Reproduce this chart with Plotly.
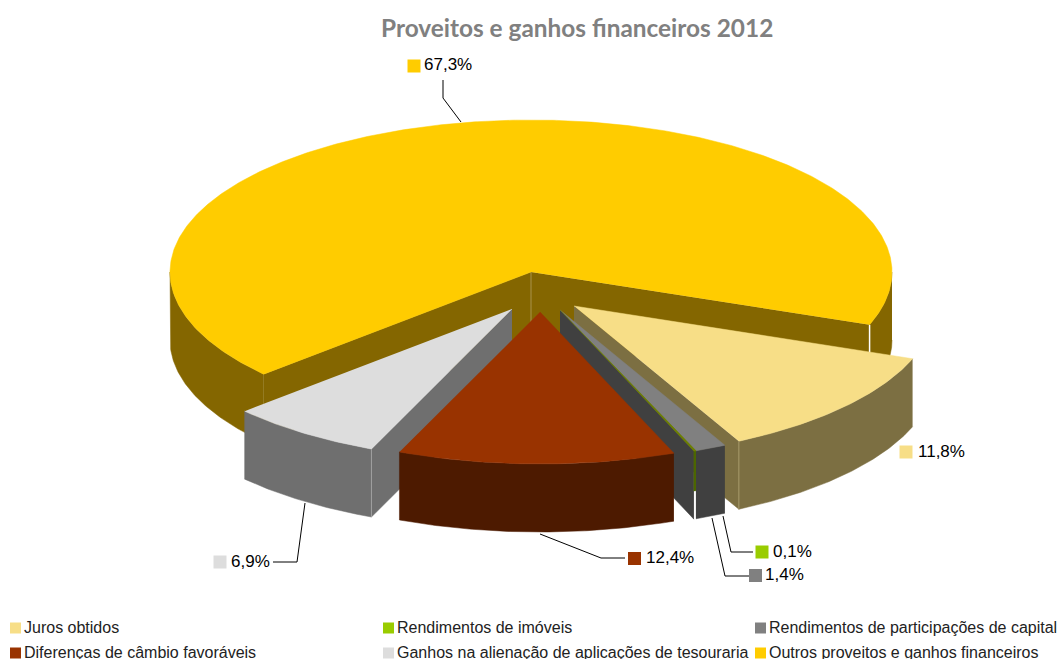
import numpy as np
import plotly.graph_objects as go

# ---- data ----
categories = ["Juros obtidos", "Rendimentos de imóveis", "Rendimentos de participações de capital",
              "Diferenças de câmbio favoráveis", "Ganhos na alienação de aplicações de tesouraria",
              "Outros proveitos e ganhos financeiros"]
values = [11.8, 0.1, 1.4, 12.4, 6.9, 67.3]
title_text = "Proveitos e ganhos financeiros 2012"

# ---- style / layout ----
top_colors = ["#F7DE87", "#99CC00", "#808080", "#993300", "#DDDDDD", "#FFCC00"]
surface_colors = ["#F7DE87", "#6B8000", "#808080", "#993300", "#DDDDDD", "#FFCC00"]
wall_colors = ["#7C6F42", "#4D6600", "#404040", "#4D1A00", "#6F6F6F", "#846600"]
apex = [(574, 306), (560, 310), (560, 310), (540, 312), (512, 309), (531, 272)]
wall_depth = [68, 40, 68, 68, 68, 68]
RX, RY, DEPTH = 361, 152, 68
START = 20.3
angular_order = [0, 2, 1, 3, 4, 5]   # clockwise order round the pie
draw_order = [5, 0, 2, 1, 4, 3]      # back to front

label_sq = [(906, 452), (762, 552), (755.5, 575.5), (634.5, 558.5), (220, 562), (414, 66)]
label_tx = [(916, 451), (771, 551), (763, 574), (644, 557), (229, 561), (422, 64)]
leaders = [None,
           [(723, 516), (731, 552), (753, 552)],
           [(712, 518), (725, 576), (749, 576)],
           [(540, 534), (601, 558), (625, 558)],
           [(305, 503), (297, 562), (273, 562)],
           [(461, 122), (443, 98), (443, 80)]]
legend_pos = [(15.5, 628), (388.5, 628), (760.5, 628), (15.5, 653), (388.5, 653), (760.5, 653)]

# ---- geometry from the values ----
total = sum(values)
spans = {}
a = START
for i in angular_order:
    spans[i] = (a, a + values[i] / total * 360)
    a = spans[i][1]


def rim(i, th):
    t = np.radians(th)
    return apex[i][0] + RX * np.cos(t), apex[i][1] + RY * np.sin(t)


fig = go.Figure()


def poly(xs, ys, color):
    fig.add_trace(go.Scatter(x=list(xs), y=list(ys), mode="lines", fill="toself", fillcolor=color,
                             line=dict(color=color, width=0.5), hoverinfo="skip", showlegend=False))


def line(pts, color="#000000", width=1):
    fig.add_trace(go.Scatter(x=[p[0] for p in pts], y=[p[1] for p in pts], mode="lines",
                             line=dict(color=color, width=width), hoverinfo="skip", showlegend=False))


def wall(i, a0, a1):
    th = np.linspace(a0, a1, max(3, int(abs(a1 - a0) * 2)))
    x, y = rim(i, th)
    d = wall_depth[i]
    poly(np.r_[x, x[::-1]], np.r_[y, y[::-1] + d], wall_colors[i])


def radial(i, th, color=None):
    x, y = rim(i, th)
    ax, ay = apex[i]
    poly([ax, x, x, ax], [ay, y, y + DEPTH, ay + DEPTH], color or wall_colors[i])


for i in draw_order:
    a0, a1 = spans[i]
    ax, ay = apex[i]
    if i == 5:
        radial(i, a0)
        radial(i, a1)
        wall(i, a0, 180)
        wall(i, 360, a1)
        line([(ax, ay), (ax, ay + DEPTH)], "#A8924A", 1)
        xr, yr = rim(i, a1)
        line([(xr, yr), (xr, yr + 28)], "#FFFFFF", 1.5)
    elif i == 0:
        radial(i, a1)
        wall(i, a0, a1)
    elif i == 2:
        radial(i, spans[1][1])
        wall(i, a0, a1)
    elif i == 1:
        wall(i, a0, a1)
        xg, yg = rim(i, a1)
        line([(xg + 1, yg + wall_depth[i]), (xg + 1, yg + DEPTH)], "#FFFFFF", 1.5)
    elif i == 4:
        radial(i, a0)
        wall(i, a0, a1)
    else:
        wall(i, a0, a1)
    th = np.linspace(a0, a1, max(3, int(abs(a1 - a0) * 2)))
    x, y = rim(i, th)
    poly(np.r_[ax, x], np.r_[ay, y], surface_colors[i])
    if i in (0, 4):
        xe, ye = rim(i, a1 if i == 0 else a0)
        line([(xe, ye), (xe, ye + DEPTH)], "#A89A6A" if i == 0 else "#A0A0A0", 1)

# leader lines
for pts in leaders:
    if pts:
        line(pts, "#000000", 1)

# data-label keys and legend keys
fig.add_trace(go.Scatter(x=[p[0] for p in label_sq], y=[p[1] for p in label_sq], mode="markers",
                         marker=dict(symbol="square", size=13, color=top_colors, line=dict(width=0)),
                         hoverinfo="skip", showlegend=False))
fig.add_trace(go.Scatter(x=[p[0] for p in legend_pos], y=[p[1] for p in legend_pos], mode="markers",
                         marker=dict(symbol="square", size=11, color=top_colors, line=dict(width=0)),
                         hoverinfo="skip", showlegend=False))

ann = []
for i, v in enumerate(values):
    ann.append(dict(x=label_tx[i][0], y=label_tx[i][1], xref="x", yref="y", xanchor="left", yanchor="middle",
                    text=f"{v:.1f}%".replace(".", ","), showarrow=False,
                    font=dict(family="Liberation Sans", size=17, color="#000000")))
    ann.append(dict(x=legend_pos[i][0] + 6.5, y=legend_pos[i][1] - 1, xref="x", yref="y", xanchor="left",
                    yanchor="middle", text=categories[i], showarrow=False,
                    font=dict(family="Liberation Sans", size=16, color="#222222")))
ann.append(dict(x=576.5, y=27, xref="x", yref="y", xanchor="center", yanchor="middle", text=f"<b>{title_text}</b>",
                showarrow=False, font=dict(family="Lato", size=24.4, color="#808080")))

fig.update_layout(width=1062, height=659, margin=dict(l=0, r=0, t=0, b=0), paper_bgcolor="white",
                  plot_bgcolor="white", showlegend=False, annotations=ann,
                  xaxis=dict(range=[0, 1062], visible=False, domain=[0, 1], fixedrange=True),
                  yaxis=dict(range=[659, 0], visible=False, domain=[0, 1], fixedrange=True))

fig.write_html("out.html", config={"displayModeBar": False},
               post_script="document.body.style.margin='0';document.body.style.overflow='hidden';")
